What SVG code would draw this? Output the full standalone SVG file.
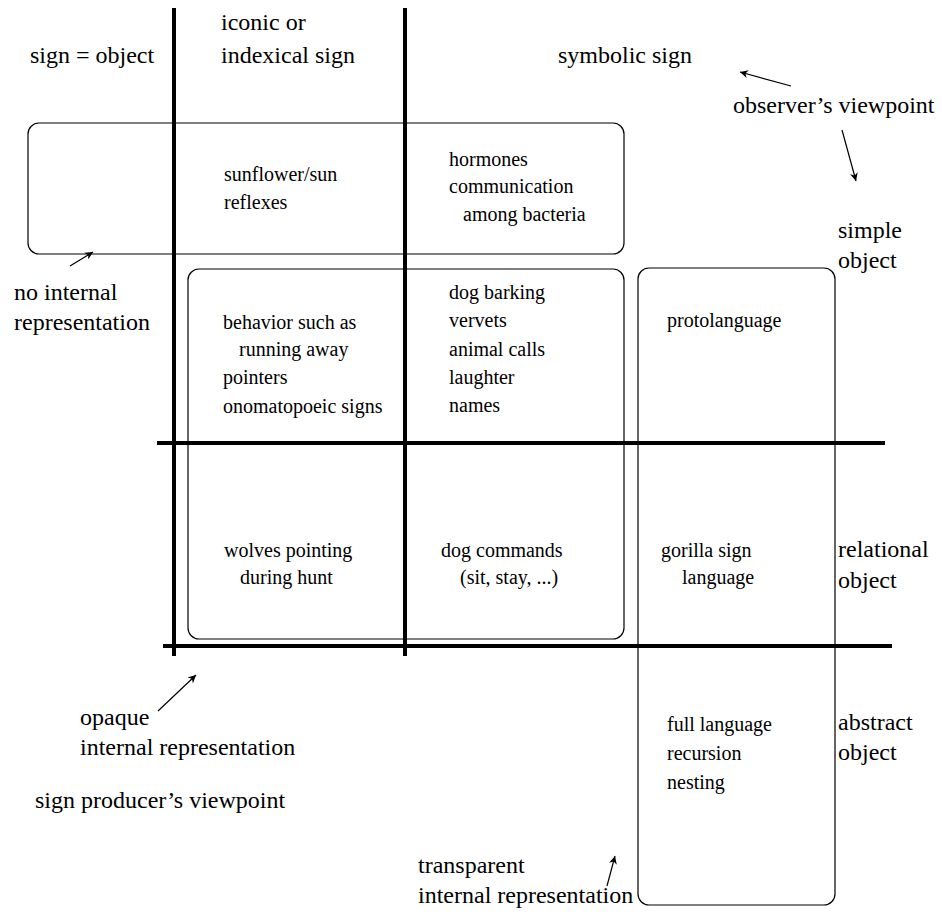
<svg xmlns="http://www.w3.org/2000/svg" width="942" height="915" viewBox="0 0 942 915">
  <defs>
    <marker id="head" viewBox="0 0 10 10" refX="10" refY="5" markerWidth="10" markerHeight="8" markerUnits="userSpaceOnUse" orient="auto">
      <path d="M0,0 L10,5 L0,10 L3,5 z" fill="#000"/>
    </marker>
  </defs>
  <rect width="942" height="915" fill="#fff"/>

  <!-- grid axes -->
  <g id="axes" stroke="#000" stroke-width="4" fill="none">
    <line x1="174" y1="8" x2="174" y2="656"/>
    <line x1="405" y1="8" x2="405" y2="656"/>
    <line x1="157" y1="443" x2="885" y2="443"/>
    <line x1="163" y1="646" x2="892" y2="646"/>
  </g>

  <!-- column and row headings -->
  <g id="headings" fill="#000" font-family="Liberation Serif" font-size="24">
    <text x="30" y="63">sign = object</text>
    <text x="221" y="30">iconic or</text>
    <text x="221" y="63">indexical sign</text>
    <text x="558" y="63">symbolic sign</text>
    <text x="733" y="113">observer’s viewpoint</text>
    <text x="838" y="238">simple</text>
    <text x="838" y="268">object</text>
    <text x="838" y="557">relational</text>
    <text x="838" y="588">object</text>
    <text x="838" y="730">abstract</text>
    <text x="838" y="760">object</text>
    <text x="14" y="300">no internal</text>
    <text x="14" y="330">representation</text>
    <text x="80" y="725">opaque</text>
    <text x="80" y="755">internal representation</text>
    <text x="35" y="808">sign producer’s viewpoint</text>
    <text x="418" y="873">transparent</text>
    <text x="418" y="903">internal representation</text>
  </g>

  <!-- region: no internal representation -->
  <g id="no-internal" fill="#000" font-family="Liberation Serif" font-size="20">
    <rect x="28" y="123" width="596" height="131" rx="11" fill="none" stroke="#000" stroke-width="1.2"/>
    <text x="224" y="181">sunflower/sun</text>
    <text x="224" y="209">reflexes</text>
    <text x="449" y="166">hormones</text>
    <text x="449" y="193">communication</text>
    <text x="463" y="221">among bacteria</text>
  </g>

  <!-- region: opaque internal representation -->
  <g id="opaque" fill="#000" font-family="Liberation Serif" font-size="20">
    <rect x="188" y="269" width="436" height="370" rx="11" fill="none" stroke="#000" stroke-width="1.2"/>
    <text x="223" y="329">behavior such as</text>
    <text x="239" y="356">running away</text>
    <text x="223" y="384">pointers</text>
    <text x="223" y="413">onomatopoeic signs</text>
    <text x="449" y="299">dog barking</text>
    <text x="449" y="327">vervets</text>
    <text x="449" y="356">animal calls</text>
    <text x="449" y="384">laughter</text>
    <text x="449" y="412">names</text>
    <text x="224" y="557">wolves pointing</text>
    <text x="240" y="584">during hunt</text>
    <text x="441" y="557">dog commands</text>
    <text x="460" y="584">(sit, stay, ...)</text>
  </g>

  <!-- region: transparent internal representation -->
  <g id="transparent" fill="#000" font-family="Liberation Serif" font-size="20">
    <rect x="638" y="268" width="197" height="637" rx="11" fill="none" stroke="#000" stroke-width="1.2"/>
    <text x="667" y="327">protolanguage</text>
    <text x="661" y="557">gorilla sign</text>
    <text x="682" y="584">language</text>
    <text x="667" y="731">full language</text>
    <text x="667" y="760">recursion</text>
    <text x="667" y="789">nesting</text>
  </g>

  <!-- pointer arrows -->
  <g id="connectors" stroke="#000" stroke-width="1.2" fill="none" marker-end="url(#head)">
    <line x1="791" y1="86" x2="740" y2="72"/>
    <line x1="842" y1="130" x2="856" y2="181"/>
    <line x1="70" y1="266" x2="93" y2="252"/>
    <line x1="158" y1="711" x2="196" y2="675"/>
    <line x1="607" y1="886" x2="615" y2="856"/>
  </g>
</svg>
